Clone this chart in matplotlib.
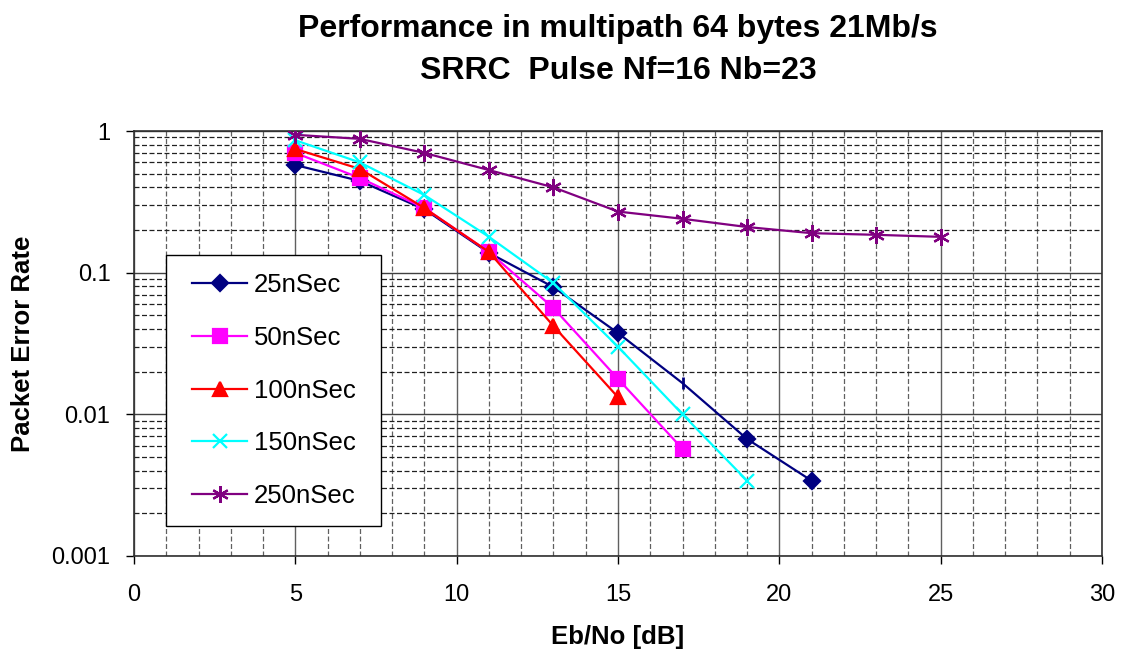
import matplotlib
matplotlib.use('Agg')
import matplotlib.pyplot as plt
from matplotlib.patches import Rectangle
from matplotlib.ticker import LogLocator, MultipleLocator, NullFormatter, FixedLocator

plt.rcParams['font.family'] = ['Liberation Sans', 'DejaVu Sans']

# data
ebno = [5, 7, 9, 11, 13, 15, 17, 19, 21, 23, 25]
per_25 = [0.575, 0.444, 0.28, 0.138, 0.079, 0.0375, 0.0166, 0.0067, 0.0034]
per_50 = [0.70, 0.466, 0.286, 0.14, 0.0563, 0.0178, 0.0057]
per_100 = [0.746, 0.54, 0.286, 0.14, 0.042, 0.0132]
per_150 = [0.86, 0.60, 0.353, 0.179, 0.0845, 0.030, 0.010, 0.0034]
per_250 = [0.94, 0.88, 0.70, 0.53, 0.40, 0.27, 0.24, 0.21, 0.19, 0.185, 0.179]

series = [
    ('25nSec', per_25, '#000080', 'D', 8),
    ('50nSec', per_50, '#FF00FF', 's', 10),
    ('100nSec', per_100, '#FF0000', '^', 10),
    ('150nSec', per_150, '#00FFFF', 'x', 10),
    ('250nSec', per_250, '#800080', (6, 2, 0), 12),
]

fig = plt.figure(figsize=(11.22, 6.56), dpi=100)
ax = fig.add_axes([134 / 1122, 1 - 556 / 656, (1102 - 134) / 1122, (556 - 131) / 656])

for name, vals, col, mk, ms in series:
    xs = ebno[:len(vals)]
    every = [i for i in range(len(vals)) if not (name == '25nSec' and i == 6)]
    ax.plot(xs, vals, color=col, marker=mk, markersize=ms, lw=1.6, markevery=every,
            markeredgecolor=col, markerfacecolor=col, markeredgewidth=1.6, label=name, zorder=3)
    if name == '25nSec':
        # the reference shows only a short tick at 17 dB on this series
        ax.plot(xs[6], vals[6], marker='|', color=col, markersize=9, markeredgewidth=2, zorder=4)

ax.set_yscale('log')
ax.set_xlim(0, 30)
ax.set_ylim(0.001, 1)
ax.xaxis.set_major_locator(MultipleLocator(5))
ax.xaxis.set_minor_locator(MultipleLocator(1))
ax.yaxis.set_major_locator(FixedLocator([0.001, 0.01, 0.1, 1]))
ax.yaxis.set_minor_locator(LogLocator(base=10, subs=range(2, 10)))
ax.yaxis.set_minor_formatter(NullFormatter())
ax.set_yticklabels(['0.001', '0.01', '0.1', '1'])

ax.grid(which='major', axis='x', color='#606060', lw=1.0, ls='-')
ax.grid(which='minor', axis='x', color='#606060', lw=0.9, ls=(0, (4, 2)))
ax.grid(which='major', axis='y', color='#404040', lw=1.0, ls='-')
ax.grid(which='minor', axis='y', color='#202020', lw=0.9, ls=(0, (4, 2)))
ax.set_axisbelow(True)

ax.tick_params(which='major', direction='out', length=6, width=1, labelsize=17)
ax.tick_params(which='minor', length=0)
ax.tick_params(axis='y', pad=11)
ax.tick_params(axis='x', pad=14)
for sp in ax.spines.values():
    sp.set_color('#303030')
    sp.set_linewidth(1.2)

ax.set_xlabel('Eb/No [dB]', fontsize=18.5, fontweight='bold', labelpad=14)
ax.set_ylabel('Packet Error Rate', fontsize=18.5, fontweight='bold', labelpad=12)

fig.text(0.551, 1 - 29 / 656, 'Performance in multipath 64 bytes 21Mb/s', ha='center', va='center',
         fontsize=23, fontweight='bold')
fig.text(0.551, 1 - 71 / 656, 'SRRC  Pulse Nf=16 Nb=23', ha='center', va='center',
         fontsize=23, fontweight='bold')

padpx = 8
leg = ax.legend(loc='upper left', bbox_to_anchor=((166 - 134 + padpx) / 968, (556 - 255) / 425),
                fontsize=18.5, frameon=False,
                borderpad=0.7, labelspacing=1.12, handlelength=2.15, handletextpad=0.25,
                borderaxespad=0)

# legend frame drawn a bit wider than the entries, as in the reference
fig.canvas.draw()
bb = leg.get_window_extent().transformed(ax.transAxes.inverted())
padx = padpx / 968
ax.add_patch(Rectangle((bb.x0 - padx, bb.y0), bb.width + 2 * padx, bb.height,
                       transform=ax.transAxes, facecolor='white', edgecolor='black',
                       lw=1.0, zorder=4.5))
leg.set_zorder(5)

fig.savefig('out.png', dpi=100)
